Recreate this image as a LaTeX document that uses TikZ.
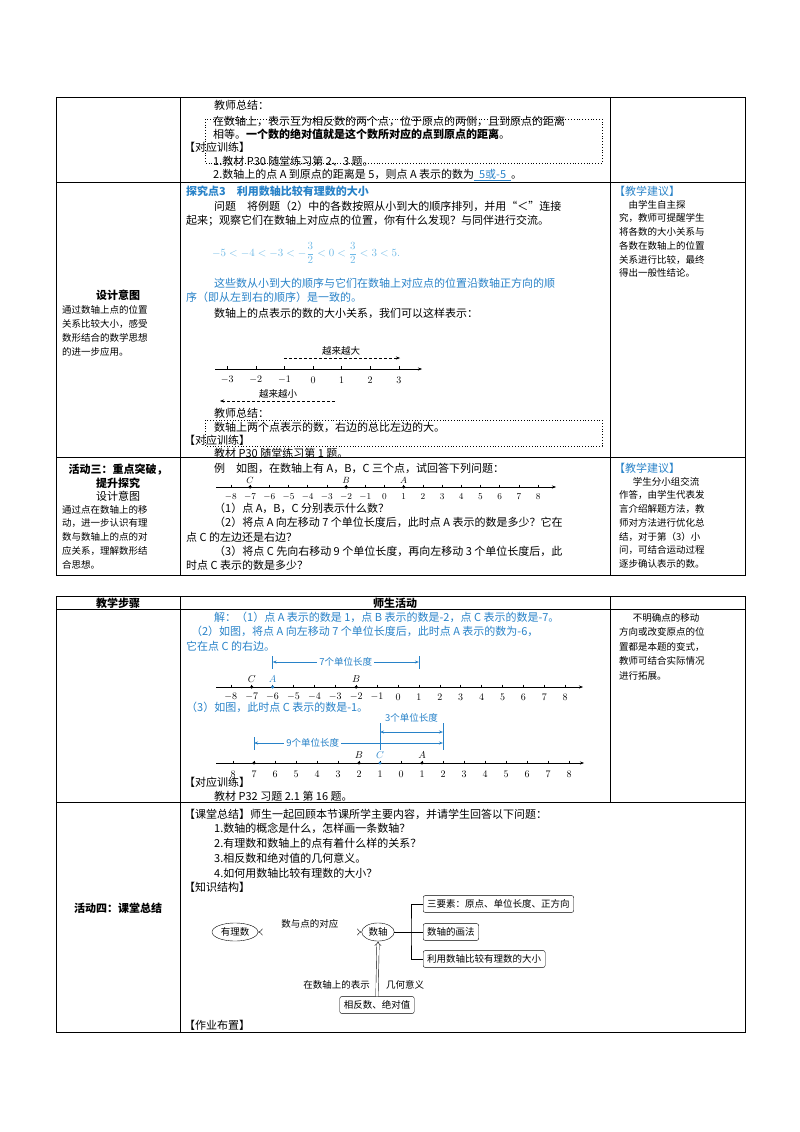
\documentclass[tikz,border=0pt]{standalone}
\usepackage{fontspec}
\setmainfont{Noto Sans CJK SC}
\usetikzlibrary{arrows.meta,shapes.geometric}
\definecolor{bl}{RGB}{40,130,200}
\definecolor{lb}{RGB}{110,185,230}
\newcommand\fs{\fontsize{11}{14}\selectfont}
\newcommand\hs{\fontsize{9.5}{12}\selectfont}
\tikzset{
 t/.style={anchor=west,inner sep=0,font=\fs},
 tc/.style={anchor=center,inner sep=0,font=\fs},
 grid/.style={line width=0.9pt},
 dbox/.style={dotted,line width=0.8pt},
 tick/.style={line width=0.5pt},
 lab/.style={inner sep=0,font=\fontsize{10}{12}\selectfont},
 elp/.style={ellipse,draw,inner sep=2pt,font=\hs},
 rbox/.style={draw,rounded corners=2pt,inner sep=4pt,font=\hs,anchor=west},
 dot/.style={circle,fill,inner sep=1.2pt},
}
\begin{document}
\begin{tikzpicture}[x=1pt,y=-1pt]
\useasboundingbox (0,0) rectangle (800,1132);
% ---------- table 1 ----------
\draw[grid] (56,97) rectangle (745,575);
\draw[grid] (180,97)--(180,575) (610,97)--(610,575);
\draw[grid] (56,182)--(745,182) (56,457)--(745,457);
% row 1
\node[t] (r1a) at (214,105) {教师总结：};
\node[t] (r1b) at (213,121) {在数轴上，表示互为相反数的两个点，位于原点的两侧，且到原点的距离};
\node[t] (r1c) at (213,134) {相等。\textbf{一个数的绝对值就是这个数所对应的点到原点的距离}。};
\node[t] (r1d) at (184,147) {【对应训练】};
\node[t] (r1e) at (213,161) {1.教材 P30 随堂练习第 2、3 题。};
\node[t] (r1f) at (213,175) {2.数轴上的点 A 到原点的距离是 5，则点 A 表示的数为\textcolor{bl}{\underline{\ \ 5或-5\ \ }}。};
\draw[dbox] (205,119) rectangle (602,163);
% row 2
\node[t,text=bl] (h3) at (186,191) {\textbf{探究点3\quad 利用数轴比较有理数的大小}};
\node[t] (q1) at (214,206) {问题\quad 将例题（2）中的各数按照从小到大的顺序排列，并用“＜”连接};
\node[t] (q2) at (186,221) {起来；观察它们在数轴上对应点的位置，你有什么发现？与同伴进行交流。};
\node[t,text=lb] (fm) at (212,253) {$\displaystyle -5<-4<-3<-\frac{3}{2}<0<\frac{3}{2}<3<5.$};
\node[t,text=bl] (q3) at (214,283) {这些数从小到大的顺序与它们在数轴上对应点的位置沿数轴正方向的顺};
\node[t,text=bl] (q4) at (186,297) {序（即从左到右的顺序）是一致的。};
\node[t] (q5) at (214,313) {数轴上的点表示的数的大小关系，我们可以这样表示：};
\node[lab,font=\hs] (big) at (341,351) {越来越大};
\draw[densely dashed,-{Stealth[length=4pt]}] (284,358)--(400,358);
\draw[-{Stealth[length=4pt]}] (215,369)--(422,369);
\foreach \i in {-3,...,3}{
 \draw[tick] ({313+28.6*\i},366)--({313+28.6*\i},369);
 \node[lab] at ({313+28.6*\i},380) {$\i$};}
\node[lab,font=\hs] (small) at (278,394) {越来越小};
\draw[densely dashed,-{Stealth[length=4pt]}] (335,401)--(220,401);
\node[t] (s1) at (214,413) {教师总结：};
\node[t] (s2) at (214,427) {数轴上两个点表示的数，右边的总比左边的大。};
\node[t] (s3) at (184,440) {【对应训练】};
\node[t] (s4) at (214,453) {教材 P30 随堂练习第 1 题。};
\draw[dbox] (205,420) rectangle (602,446);
\node[tc] (l1) at (118,295) {\textbf{设计意图}};
\node[t,font=\hs] (l2) at (62,310) {通过数轴上点的位置};
\node[t,font=\hs] (l3) at (62,324) {关系比较大小，感受};
\node[t,font=\hs] (l4) at (62,338) {数形结合的数学思想};
\node[t,font=\hs] (l5) at (62,352) {的进一步应用。};
\node[t,text=bl] (jy1) at (614,191) {【教学建议】};
\foreach \s [count=\k] in {\quad 由学生自主探,究，教师可提醒学生,将各数的大小关系与,各数在数轴上的位置,关系进行比较，最终,得出一般性结论。}
 \node[t,font=\hs] at (619,{191+13.7*\k}) {\s};
% row 3
\node[tc] (a3) at (118,470) {\textbf{活动三：重点突破，}};
\node[tc] (a3b) at (118,483) {\textbf{提升探究}};
\node[tc] (a3c) at (118,496) {设计意图};
\foreach \s [count=\k] in {通过点在数轴上的移,动，进一步认识有理,数与数轴上的点的对,应关系，理解数形结,合思想。}
 \node[t,font=\hs] at (62,{496+13.7*\k}) {\s};
\node[t] (e1) at (214,468) {例\quad 如图，在数轴上有 A，B，C 三个点，试回答下列问题：};
\draw[-{Stealth[length=4pt]}] (216,487)--(556,487);
\foreach \i in {-8,...,8}{
 \draw[tick] ({384.5+19.2*\i},484.5)--({384.5+19.2*\i},487);
 \node[lab,font=\fontsize{9}{11}\selectfont] at ({384.5+19.2*\i},497) {$\i$};}
\node[dot] (pc) at ({384.5-7*19.2},487) {};
\node[dot] (pb) at ({384.5-2*19.2},487) {};
\node[dot] (pa) at ({384.5+19.2},487) {};
\node[lab,font=\fontsize{9}{11}\selectfont] at (pc.north) [above=1pt] {$C$};
\node[lab,font=\fontsize{9}{11}\selectfont] at (pb.north) [above=1pt] {$B$};
\node[lab,font=\fontsize{9}{11}\selectfont] at (pa.north) [above=1pt] {$A$};
\node[t] (e2) at (214,508) {（1）点 A，B，C 分别表示什么数？};
\node[t] (e3) at (214,522) {（2）将点 A 向左移动 7 个单位长度后，此时点 A 表示的数是多少？它在};
\node[t] (e4) at (186,537) {点 C 的左边还是右边？};
\node[t] (e5) at (214,551) {（3）将点 C 先向右移动 9 个单位长度，再向左移动 3 个单位长度后，此};
\node[t] (e6) at (186,565) {时点 C 表示的数是多少？};
\node[t,text=bl] (jy2) at (614,468) {【教学建议】};
\foreach \s [count=\k] in {\quad\ \ 学生分小组交流,作答，由学生代表发,言介绍解题方法，教,师对方法进行优化总,结，对于第（3）小,问，可结合运动过程,逐步确认表示的数。}
 \node[t,font=\hs] at (619,{468+13.7*\k}) {\s};
% ---------- table 2 ----------
\draw[grid] (56,596) rectangle (745,1032);
\draw[grid] (180,596)--(180,1032) (610,596)--(610,802);
\draw[grid] (56,609)--(745,609) (56,802)--(745,802);
\node[tc] (hd1) at (118,603) {\textbf{教学步骤}};
\node[tc] (hd2) at (395,603) {\textbf{师生活动}};
\node[t,text=bl] (j1) at (214,617) {解：（1）点 A 表示的数是 1，点 B 表示的数是-2，点 C 表示的数是-7。};
\node[t,text=bl] (j2) at (186,631) {\ \ （2）如图，将点 A 向左移动 7 个单位长度后，此时点 A 表示的数为-6，};
\node[t,text=bl] (j3) at (186,646) {它在点 C 的右边。};
% axis 1
\def\oa{398}\def\sa{20.9}
\draw[-{Stealth[length=4pt]}] (216,687)--(583,687);
\foreach \i in {-8,...,8}{
 \draw[tick] ({\oa+\sa*\i},684.5)--({\oa+\sa*\i},687);
 \node[lab] at ({\oa+\sa*\i},697) {$\i$};}
\node[dot] (c1) at ({\oa-7*\sa},687) {};
\node[dot,bl] (a1) at ({\oa-6*\sa},687) {};
\node[dot] (b1) at ({\oa-2*\sa},687) {};
\node[lab] at (c1.north) [above=2pt] {$C$};
\node[lab,text=bl] at (a1.north) [above=2pt] {$A$};
\node[lab] at (b1.north) [above=2pt] {$B$};
\begin{scope}[bl,line width=0.7pt]
\draw ({\oa-6*\sa},656)--({\oa-6*\sa},669) ({\oa+\sa},656)--({\oa+\sa},669);
\draw[{Stealth[length=4pt]}-{Stealth[length=4pt]}] ({\oa-6*\sa},662)--({\oa+\sa},662);
\node[lab,font=\hs,fill=white,inner sep=2pt,text=bl] (u7) at ({\oa-2.5*\sa},662) {7个单位长度};
\end{scope}
\node[t,text=bl] (j4) at (186,707) {（3）如图，此时点 C 表示的数是-1。};
% axis 2
\def\ob{401}\def\sb{21}
\draw[-{Stealth[length=4pt]}] (216,763)--(584,763);
\foreach \i/\l in {-8/8,-7/7,-6/6,-5/5,-4/4,-3/3,-2/2,-1/1,0/0,1/1,2/2,3/3,4/4,5/5,6/6,7/7,8/8}{
 \draw[tick] ({\ob+\sb*\i},760.5)--({\ob+\sb*\i},763);
 \node[lab] at ({\ob+\sb*\i},774) {$\l$};}
\node[dot] (c2) at ({\ob-7*\sb},763) {};
\node[dot] (b2) at ({\ob-2*\sb},763) {};
\node[dot,bl] (cc2) at ({\ob-1*\sb},763) {};
\node[dot] (a2) at ({\ob+1*\sb},763) {};
\node[lab] at (b2.north) [above=2pt] {$B$};
\node[lab,text=bl] at (cc2.north) [above=2pt] {$C$};
\node[lab] at (a2.north) [above=2pt] {$A$};
\begin{scope}[bl,line width=0.7pt]
\draw ({\ob-7*\sb},737)--({\ob-7*\sb},750) ({\ob-\sb},723)--({\ob-\sb},750) ({\ob+2*\sb},723)--({\ob+2*\sb},750);
\draw[{Stealth[length=4pt]}-{Stealth[length=4pt]}] ({\ob-7*\sb},743)--({\ob+2*\sb},743);
\draw[{Stealth[length=4pt]}-{Stealth[length=4pt]}] ({\ob-\sb},732)--({\ob+2*\sb},732);
\node[lab,font=\hs,fill=white,inner sep=2pt,text=bl] (u9) at ({\ob-4.2*\sb},743) {9个单位长度};
\node[lab,font=\hs,text=bl] (u3) at ({\ob+0.5*\sb},718) {3个单位长度};
\end{scope}
\node[t] (k1) at (184,782) {【对应训练】};
\node[t] (k2) at (214,796) {教材 P32 习题 2.1 第 16 题。};
\foreach \s [count=\k] in {\quad\ \ 不明确点的移动,方向或改变原点的位,置都是本题的变式，,教师可结合实际情况,进行拓展。}
 \node[t,font=\hs] at (619,{603+14.5*\k}) {\s};
% row 4
\node[tc] (a4) at (118,908) {\textbf{活动四：课堂总结}};
\node[t] (z0) at (184,814) {【课堂总结】师生一起回顾本节课所学主要内容，并请学生回答以下问题：};
\node[t] (z1) at (214,828) {1.数轴的概念是什么，怎样画一条数轴？};
\node[t] (z2) at (214,843) {2.有理数和数轴上的点有着什么样的关系？};
\node[t] (z3) at (214,858) {3.相反数和绝对值的几何意义。};
\node[t] (z4) at (214,873) {4.如何用数轴比较有理数的大小？};
\node[t] (z5) at (184,887) {【知识结构】};
\node[elp] (yl) at (235,932) {有理数};
\node[elp] (sz) at (378,932) {数轴};
\draw[double,double distance=2pt,{Implies}-{Implies}] (yl.east)--(sz.west) node[midway,above=3pt,font=\hs,inner sep=0] {数与点的对应};
\node[rbox] (b1x) at (423,904) {三要素：原点、单位长度、正方向};
\node[rbox] (b2x) at (423,932) {数轴的画法};
\node[rbox] (b3x) at (423,959) {利用数轴比较有理数的大小};
\coordinate (br) at (411,932);
\draw (sz.east)--(br);
\draw (b1x.west)-|(br)|-(b3x.west);
\draw (br)--(b2x.west);
\node[draw,rounded corners=2pt,inner sep=4pt,font=\hs] (xf) at (377,1005) {相反数、绝对值};
\draw[double,double distance=2pt,-{Implies}] (xf.north)--(sz.south);
\node[anchor=east,font=\hs,inner sep=0] (zb1) at (370,985) {在数轴上的表示};
\node[anchor=west,font=\hs,inner sep=0] (zb2) at (386,985) {几何意义};
\node[t] (z6) at (184,1025) {【作业布置】};
\end{tikzpicture}
\end{document}
